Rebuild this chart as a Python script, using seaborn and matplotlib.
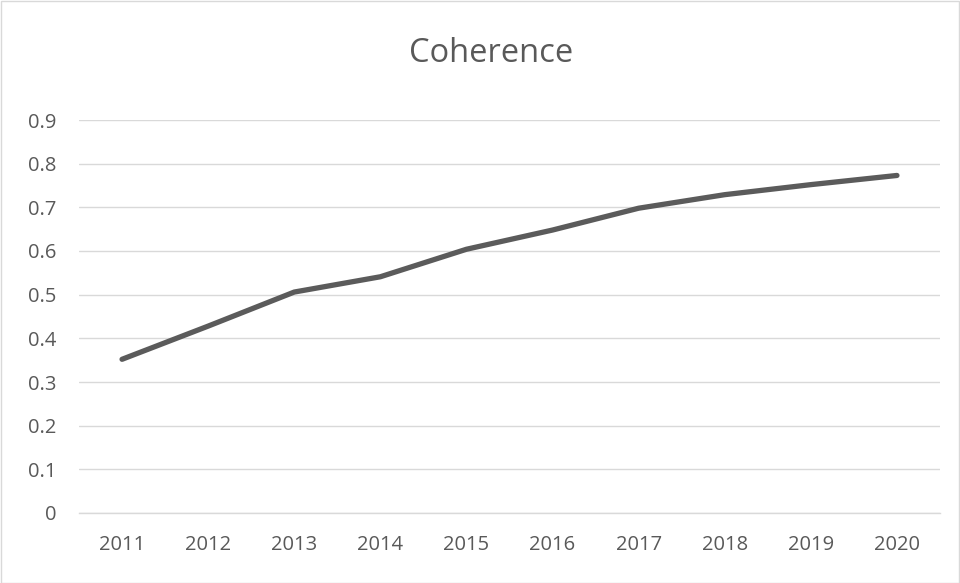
import matplotlib
matplotlib.use("Agg")
import matplotlib.pyplot as plt
import seaborn as sns
import pandas as pd
from matplotlib.patches import Rectangle

years = [2011, 2012, 2013, 2014, 2015, 2016, 2017, 2018, 2019, 2020]
coherence = [0.352, 0.428, 0.506, 0.541, 0.604, 0.648, 0.698, 0.729, 0.752, 0.773]
y_ticks = [0, 0.1, 0.2, 0.3, 0.4, 0.5, 0.6, 0.7, 0.8, 0.9]
y_tick_labels = ["0", "0.1", "0.2", "0.3", "0.4", "0.5", "0.6", "0.7", "0.8", "0.9"]

df = pd.DataFrame({"Year": years, "Coherence": coherence})

sns.set_theme(style="white")
plt.rcParams["font.family"] = ["Open Sans", "DejaVu Sans"]

fig = plt.figure(figsize=(9.6, 5.83), dpi=100)
ax = fig.add_axes([79 / 960, 1 - 513 / 583, (940 - 79) / 960, (513 - 120) / 583])

sns.lineplot(data=df, x="Year", y="Coherence", ax=ax, color="#5b5b5b",
             linewidth=3.8, solid_capstyle="round", solid_joinstyle="round")

ax.set_xlim(years[0] - 0.5, years[-1] + 0.5)
ax.set_ylim(0, 0.9)
ax.set_yticks(y_ticks)
ax.set_yticklabels(y_tick_labels)
ax.set_xticks(years)
ax.set_xticklabels([str(y) for y in years])
ax.yaxis.grid(True, color="#d9d9d9", linewidth=1.0)
ax.set_axisbelow(True)
for s in ["top", "right", "left"]:
    ax.spines[s].set_visible(False)
ax.spines["bottom"].set_color("#d9d9d9")
ax.spines["bottom"].set_linewidth(1.0)
ax.tick_params(axis="both", length=0, labelsize=14.5, labelcolor="#595959")
ax.tick_params(axis="y", pad=16.5)
ax.tick_params(axis="x", pad=16)
for lbl in ax.get_yticklabels():
    lbl.set_horizontalalignment("right")
ax.set_xlabel("")
ax.set_ylabel("")

fig.text(491 / 960, 1 - 53 / 583, "Coherence", ha="center", va="center",
         fontsize=23.5, color="#595959")

fig.patches.append(Rectangle((0.5 / 960, 0.5 / 583), 1 - 1.5 / 960, 1 - 1.5 / 583,
                             transform=fig.transFigure, fill=False,
                             edgecolor="#d9d9d9", linewidth=1.0))

fig.savefig("out.png", dpi=100)
